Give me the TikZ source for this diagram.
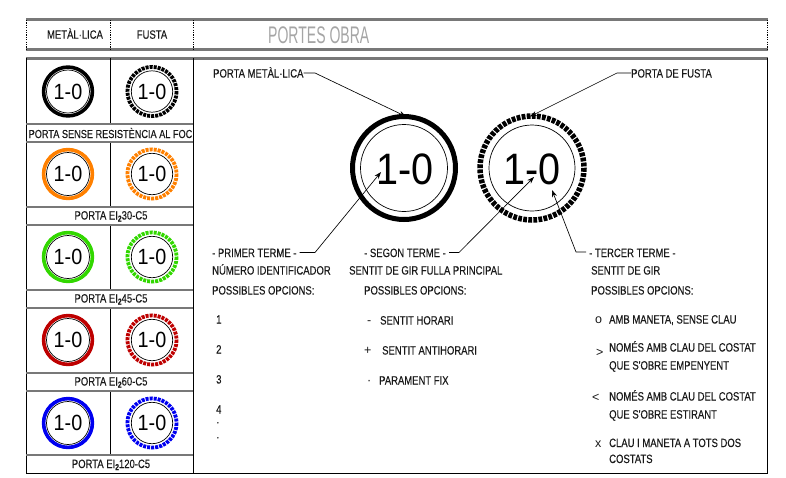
\documentclass[tikz,border=0pt]{standalone}
\usepackage{fontspec}
\setmainfont{Liberation Sans}
\newfontfamily\narrowfont[FakeStretch=0.79,FakeBold=0.25]{Liberation Sans}
\newfontfamily\titlefont[FakeStretch=0.585]{Liberation Sans}
\newfontfamily\numfont[FakeStretch=0.9]{Liberation Sans}
\usetikzlibrary{arrows.meta}
\definecolor{bandgrey}{RGB}{120,120,120}
\definecolor{titlegrey}{RGB}{165,165,165}
\definecolor{cOrange}{RGB}{255,128,0}
\definecolor{cGreen}{RGB}{50,215,0}
\definecolor{cRed}{RGB}{190,0,0}
\definecolor{cBlue}{RGB}{0,0,240}
\newcommand{\subtwo}{\raisebox{-2pt}{\fontsize{8.5}{8.5}\selectfont\bfseries 2}}
\tikzset{
  x=1pt,y=-1pt,
  txt/.style={inner sep=0pt,anchor=base west,font=\narrowfont\fontsize{12}{12}\selectfont,text=black!90},
  mid/.style={inner sep=0pt,anchor=base,font=\narrowfont\fontsize{12}{12}\selectfont,text=black!90},
  sym/.style={inner sep=0pt,anchor=base west,font=\fontsize{12.5}{12}\selectfont,text=black!90},
  smallnum/.style={inner sep=0pt,font=\numfont\fontsize{22}{22}\selectfont},
  bignum/.style={inner sep=0pt,font=\numfont\fontsize{44}{44}\selectfont},
  band/.style={draw=bandgrey,line width=2.4pt},
  thinband/.style={draw=bandgrey,line width=2.2pt},
  rule/.style={draw=black,line width=0.9pt},
  dotrule/.style={draw=black,line width=0.8pt,dash pattern=on 1.2pt off 1.2pt},
  lead/.style={draw=black,line width=0.65pt},
  arrowlead/.style={lead,-{Stealth[length=7pt,width=5pt]}},
}
\newcommand{\smallpair}[3]{% y, colour, name
  \node[smallnum] (#3a) at (68,#1) {1-0};
  \node[smallnum] (#3b) at (152,#1) {1-0};
  \draw[draw=#2,line width=3.6pt] (68,#1) circle[radius=24.4];
  \draw[draw=black,line width=0.7pt] (68,#1) circle[radius=21.5];
  \draw[draw=#2,line width=3.8pt,dash pattern=on 3pt off 1.05pt] (152,#1) circle[radius=24.6];
  \draw[draw=black,line width=0.7pt] (152,#1) circle[radius=20.7];
}
\begin{document}
\begin{tikzpicture}
\useasboundingbox (0,0) rectangle (786,477);
% header
\draw[band] (26,19.5) -- (768,19.5);
\draw[band] (26,49.5) -- (768,49.5);
\draw[dotrule] (26.5,20) -- (26.5,49);
\draw[dotrule] (110.5,20) -- (110.5,49);
\draw[dotrule] (193.5,20) -- (193.5,49);
\draw[dotrule] (767.5,20) -- (767.5,49);
\node[mid] (hm) at (75,38.7) {METÀL·LICA};
\node[mid] (hf) at (152,38.7) {FUSTA};
\node[inner sep=0pt,anchor=base west,font=\titlefont\fontsize{24}{24}\selectfont,text=titlegrey] (title) at (268,43.5) {PORTES OBRA};
% main frame
\draw[band] (26,58.5) -- (768,58.5);
\draw[rule] (26.5,58) -- (26.5,473) -- (767.5,473) -- (767.5,58);
\draw[rule] (193.5,58) -- (193.5,473);
\foreach \ya/\yb in {58/124,142/207,225/290,308/373,391/455}{
  \draw[rule] (110.5,\ya) -- (110.5,\yb);
}
\foreach \ya in {124,207,290,373,455,142,225,308,391}{
  \draw[thinband] (26,\ya) -- (193,\ya);
}
% small symbols
\smallpair{91.5}{black}{pa}
\smallpair{174}{cOrange}{pb}
\smallpair{257}{cGreen}{pc}
\smallpair{340}{cRed}{pd}
\smallpair{423}{cBlue}{pe}
% row labels
\node[mid,font=\narrowfont\fontsize{11.6}{12}\selectfont] (la) at (110.5,138) {PORTA SENSE RESISTÈNCIA AL FOC};
\node[mid] (lb) at (111,219.5) {PORTA EI\subtwo 30-C5};
\node[mid] (lc) at (111,302.5) {PORTA EI\subtwo 45-C5};
\node[mid] (ld) at (111,385.5) {PORTA EI\subtwo 60-C5};
\node[mid] (le) at (111,468) {PORTA EI\subtwo 120-C5};
% big symbols
\node[bignum] (bigm) at (405,169) {1-0};
\node[bignum] (bigf) at (532,169) {1-0};
\draw[line width=5pt] (404,168) circle[radius=51.5];
\draw[line width=0.7pt] (404,168) circle[radius=43.5];
\draw[line width=5.5pt,dash pattern=on 3.8pt off 1.3pt] (532,168) circle[radius=52];
\draw[line width=0.7pt] (532,168) circle[radius=43];
% labels
\node[txt] (tm) at (213,77.5) {PORTA METÀL·LICA};
\node[txt] (tf) at (631,77.5) {PORTA DE FUSTA};
\node[txt] (p1) at (212,257) {- PRIMER TERME -};
\node[txt] (p2) at (212,274.5) {NÚMERO IDENTIFICADOR};
\node[txt] (p3) at (212,294.5) {POSSIBLES OPCIONS:};
\node[txt] (o1) at (216,323.5) {1};
\node[txt] (o2) at (216,353.5) {2};
\node[txt] (o3) at (216,383.5) {3};
\node[txt] (o4) at (216,413.5) {4};
\node[txt] (o5) at (216,426) {·};
\node[txt] (o6) at (216,441) {·};
\node[txt] (s1) at (364,257) {- SEGON TERME -};
\node[txt] (s2) at (349,274.5) {SENTIT DE GIR FULLA PRINCIPAL};
\node[txt] (s3) at (364,294.5) {POSSIBLES OPCIONS:};
\node[sym] (a1) at (367,324) {-};
\node[sym] (a2) at (364,354) {+};
\node[sym] (a3) at (367,384) {·};
\node[txt] (b1) at (380,324.5) {SENTIT HORARI};
\node[txt] (b2) at (382,354.5) {SENTIT ANTIHORARI};
\node[txt] (b3) at (379,384.5) {PARAMENT FIX};
\node[txt] (t1) at (589,257) {- TERCER TERME -};
\node[txt] (t2) at (591,274.5) {SENTIT DE GIR};
\node[txt] (t3) at (591,294.5) {POSSIBLES OPCIONS:};
\node[sym] (c1) at (595,323.5) {o};
\node[sym] (c2) at (596,356) {>};
\node[sym] (c3) at (592,401) {<};
\node[sym] (c4) at (595,447.5) {x};
\node[txt] (d1) at (609,323.5) {AMB MANETA, SENSE CLAU};
\node[txt] (d2) at (609,351.5) {NOMÉS AMB CLAU DEL COSTAT};
\node[txt] (d3) at (609,369.5) {QUE S'OBRE EMPENYENT};
\node[txt] (d4) at (609,400.5) {NOMÉS AMB CLAU DEL COSTAT};
\node[txt] (d5) at (609,418.5) {QUE S'OBRE ESTIRANT};
\node[txt] (d6) at (609,447) {CLAU I MANETA A TOTS DOS};
\node[txt] (d7) at (609,463) {COSTATS};
% connector anchors
\coordinate (ktm) at (315,73);
\coordinate (ktf) at (617,73);
\coordinate (kp1) at (315,252.5);
\coordinate (ks1) at (459,252.5);
\coordinate (kt1) at (576,252);
\coordinate (hm1) at (406,116.5);
\coordinate (hf1) at (530,116.5);
\coordinate (hp1) at (381,172);
\coordinate (hs1) at (534,177);
\coordinate (ht1) at (552,190);
\draw[arrowlead] (tm.east |- ktm) -- (ktm) -- (hm1);
\draw[arrowlead] (tf.west |- ktf) -- (ktf) -- (hf1);
\draw[arrowlead] (p1.east |- kp1) ++(3,0) -- (kp1) -- (hp1);
\draw[arrowlead] (s1.east |- ks1) ++(3,0) -- (ks1) -- (hs1);
\draw[arrowlead] (t1.west |- kt1) ++(-3,0) -- (kt1) -- (ht1);
\end{tikzpicture}
\end{document}
